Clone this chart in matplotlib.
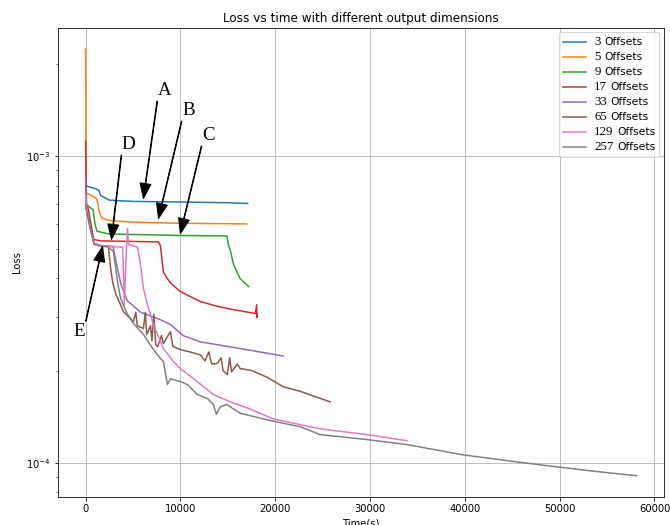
import matplotlib
matplotlib.use("Agg")
import matplotlib.pyplot as plt
from matplotlib.lines import Line2D
from matplotlib.offsetbox import AnchoredOffsetbox, VPacker, HPacker, TextArea, DrawingArea

# ---- data ----
labels = ['3', '5', '9', '17', '33', '65', '129', '257']

t3 = [0, 100, 1000, 1400, 1600, 2500, 5000, 10000, 15000, 17100]
l3 = [8.5e-4, 8.0e-4, 7.86e-4, 7.75e-4, 7.45e-4, 7.2e-4, 7.13e-4, 7.1e-4, 7.06e-4, 7.02e-4]

t5 = [0, 50, 1000, 1200, 1500, 1700, 2500, 5000, 10000, 17000]
l5 = [2.24e-3, 7.6e-4, 7.35e-4, 7.25e-4, 6.5e-4, 6.3e-4, 6.18e-4, 6.1e-4, 6.05e-4, 6.02e-4]

t9 = [0, 500, 800, 1000, 1200, 2500, 10000, 14900, 15100, 15300, 15600, 16300, 17200]
l9 = [7.0e-4, 6.8e-4, 6.7e-4, 6.0e-4, 5.7e-4, 5.58e-4, 5.52e-4, 5.5e-4, 5.1e-4, 4.89e-4, 4.44e-4, 3.99e-4, 3.76e-4]

t17 = [0, 100, 300, 700, 850, 1600, 7700, 7900, 8200, 8600, 9000, 10000, 12100,
       13900, 15600, 17900, 18050, 18080, 18110]
l17 = [1.12e-3, 7.0e-4, 6.7e-4, 5.7e-4, 5.36e-4, 5.3e-4, 5.26e-4, 5.1e-4, 4.2e-4, 4.0e-4,
       3.85e-4, 3.62e-4, 3.36e-4, 3.24e-4, 3.16e-4, 3.07e-4, 3.28e-4, 2.98e-4, 3.05e-4]

t33 = [0, 100, 300, 500, 900, 1500, 2900, 3150, 3700, 4400, 5800, 7900, 9000, 10300,
       12100, 15600, 20850]
l33 = [8.6e-4, 6.7e-4, 6.3e-4, 5.8e-4, 5.2e-4, 5.12e-4, 5.08e-4, 4.65e-4, 3.85e-4,
       3.38e-4, 3.1e-4, 2.93e-4, 2.82e-4, 2.6e-4, 2.48e-4, 2.38e-4, 2.23e-4]

t65 = [0, 300, 900, 1500, 2400, 2650, 2850, 3200, 3400, 4000, 5050, 5300, 5450, 6100,
       6300, 6450, 6850, 7000, 7200, 7400, 7600, 8000, 8200, 8950, 9200, 10000, 11000,
       12100, 12600, 13000, 13300, 13900, 14300, 14500, 14950, 15200, 15400, 16000,
       16300, 17500, 19160, 20850, 22640, 25800]
l65 = [6.9e-4, 6.3e-4, 5.2e-4, 5.12e-4, 5.08e-4, 4.3e-4, 3.9e-4, 3.54e-4, 3.44e-4,
       3.11e-4, 2.89e-4, 3.1e-4, 2.8e-4, 2.74e-4, 3.1e-4, 2.62e-4, 2.8e-4, 2.5e-4,
       3.05e-4, 2.43e-4, 2.39e-4, 2.6e-4, 2.45e-4, 2.68e-4, 2.4e-4, 2.34e-4, 2.3e-4,
       2.25e-4, 2.15e-4, 2.3e-4, 2.1e-4, 2.11e-4, 2.2e-4, 2.0e-4, 1.94e-4, 2.2e-4,
       1.98e-4, 2.1e-4, 2.03e-4, 2.0e-4, 1.9e-4, 1.77e-4, 1.71e-4, 1.58e-4]

t129 = [0, 200, 500, 900, 1500, 3900, 4000, 4100, 4250, 4420, 4530, 5470, 5790, 6110,
        6530, 7160, 8210, 9260, 10000, 11790, 13470, 15270, 17060, 19790, 24740,
        29690, 33900]
l129 = [7.3e-4, 6.5e-4, 5.8e-4, 5.2e-4, 5.12e-4, 5.05e-4, 4.2e-4, 3.28e-4, 4.5e-4,
        5.82e-4, 5.16e-4, 5.06e-4, 4.44e-4, 3.7e-4, 3.28e-4, 2.82e-4, 2.36e-4,
        2.14e-4, 2.03e-4, 1.84e-4, 1.67e-4, 1.58e-4, 1.51e-4, 1.39e-4, 1.29e-4,
        1.235e-4, 1.18e-4]

t257 = [0, 300, 900, 1500, 2400, 2950, 3370, 3690, 4420, 5050, 6110, 7160, 7900, 8210,
        8630, 8950, 10000, 10740, 11790, 12850, 13470, 13800, 14200, 14850, 16320,
        19160, 22640, 24740, 29700, 33900, 39700, 45070, 49600, 54000, 58100]
l257 = [6.9e-4, 6.2e-4, 5.15e-4, 5.1e-4, 5.06e-4, 4.89e-4, 3.9e-4, 3.44e-4, 3.05e-4,
        2.85e-4, 2.62e-4, 2.34e-4, 2.19e-4, 2.14e-4, 1.8e-4, 1.88e-4, 1.84e-4, 1.8e-4,
        1.67e-4, 1.62e-4, 1.55e-4, 1.44e-4, 1.52e-4, 1.55e-4, 1.45e-4, 1.38e-4,
        1.31e-4, 1.235e-4, 1.19e-4, 1.146e-4, 1.062e-4, 1.01e-4, 9.7e-5, 9.35e-5, 9.07e-5]

times = [t3, t5, t9, t17, t33, t65, t129, t257]
losses = [l3, l5, l9, l17, l33, l65, l129, l257]

# annotation letters: (letter, arrow tip (t, loss), text position (t, loss))
ann_letters = ['A', 'B', 'C', 'D', 'E']
ann_tips = [(6100, 7.29e-4), (7690, 6.27e-4), (10000, 5.6e-4), (2740, 5.36e-4), (1790, 5.08e-4)]
ann_texts = [(8320, 1.64e-3), (10850, 1.41e-3), (12950, 1.17e-3), (4530, 1.094e-3), (-630, 2.68e-4)]

# ---- figure ----
fig = plt.figure(figsize=(670 / 72, 525 / 72), dpi=72)
ax = fig.add_axes([0.0866, 0.0533, 0.9044, 0.8937])

lines = []
for lab, t, l in zip(labels, times, losses):
    ln, = ax.plot(t, l, label=lab + ' Offsets')
    lines.append(ln)

ax.set_yscale('log')
ax.grid(True)
ax.set_title('Loss vs time with different output dimensions')
ax.set_xlabel('Time(s)')
ax.set_ylabel('Loss')

# legend: serif numbers followed by sans "Offsets"
rows = []
for ln, lab in zip(lines, labels):
    da = DrawingArea(23, 7.5, 0, 0)
    da.add_artist(Line2D([0, 23], [3.8, 3.8], color=ln.get_color(), lw=1.5))
    num = TextArea(lab, textprops=dict(family='Liberation Serif', size=13))
    txt = TextArea('Offsets', textprops=dict(size=10.7))
    label_box = HPacker(children=[num, txt], align='baseline', pad=0, sep=3.5)
    rows.append(HPacker(children=[da, label_box], align='baseline', pad=0, sep=8))
vbox = VPacker(children=rows, align='left', pad=0, sep=3.0)
leg = AnchoredOffsetbox(loc='upper right', child=vbox, pad=0.4, borderpad=0.45,
                        frameon=True)
leg.patch.set_boxstyle('round,pad=0,rounding_size=0.2')
leg.patch.set_edgecolor('0.8')
leg.patch.set_facecolor('white')
leg.patch.set_alpha(0.8)
ax.add_artist(leg)

for letter, tip, txt in zip(ann_letters, ann_tips, ann_texts):
    ax.annotate(letter, xy=tip, xytext=txt, ha='center', va='center',
                fontsize=19, family='Liberation Serif',
                arrowprops=dict(facecolor='black', width=0.6, headwidth=11,
                                headlength=15, shrink=0.0))

fig.savefig('out.png', dpi=72)
